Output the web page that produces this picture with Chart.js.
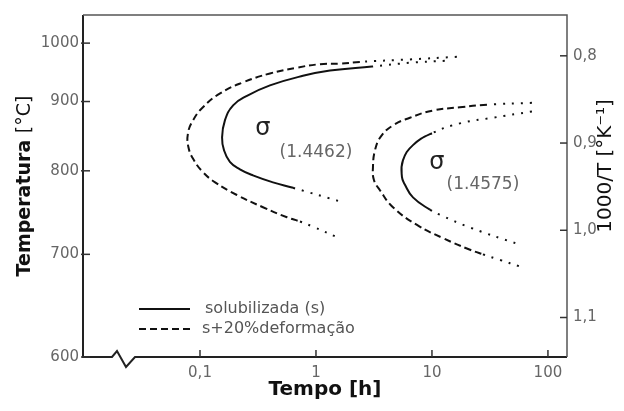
<!DOCTYPE html>
<html>
<head>
<meta charset="utf-8">
<script src="https://cdn.jsdelivr.net/npm/chart.js@4.4.0/dist/chart.umd.min.js"></script>
<style>
	html, body { margin: 0; padding: 0; background: #fff; }
	#wrap { width: 624px; height: 411px; }
</style>
</head>
<body>
<div id="wrap"><canvas id="ChartCanvas"></canvas></div>
<script>
// curvas TTT: tempo [h] x temperatura [C]
var tempoSolA = [12.9, 6.46, 3.04, 1.32, 0.772, 0.401, 0.254, 0.193, 0.164, 0.155, 0.161, 0.181, 0.221, 0.286, 0.426, 0.634, 1.71];
var tempSolA  = [968, 964.5, 958, 951, 942, 926, 909, 894, 871, 846, 828, 812, 802, 794, 785, 778, 760];

var tempoDefA = [16.4, 6.46, 2.39, 1.61, 1.083, 0.686, 0.401, 0.235, 0.149, 0.106, 0.087, 0.0788, 0.0795, 0.088, 0.105, 0.135, 0.208, 0.349, 0.562, 0.728, 0.942, 1.517];
var tempDefA  = [975, 970.5, 966, 963, 962, 956, 946, 931, 913, 891, 871, 852, 832, 815, 799, 785, 769, 754, 742, 737, 731, 719];

var tempoDefB = [72.8, 29.8, 17.4, 10.2, 6.46, 4.61, 3.62, 3.23, 3.10, 3.16, 3.56, 4.61, 7.43, 12.4, 21.3, 27.5, 38.5, 57.4];
var tempDefB  = [898, 895, 891, 886, 875, 863.5, 847, 828, 805, 788, 775, 754, 733, 718, 705, 700, 694, 687];

var tempoSolB = [72.8, 33.6, 17.4, 10.0, 6.86, 5.62, 5.51, 5.85, 6.86, 9.61, 11.7, 21.3, 57.4];
var tempSolB  = [884.5, 875, 866.5, 852, 835, 814, 792, 782, 766, 751, 745, 730, 710.5];

// trechos pontilhados (extrapolados) no inicio / fim de cada curva
var pontilhadoIni = [2, 2, 1, 3];
var pontilhadoFim = [1, 2, 2, 3];

var legendaTxt = ['solubilizada (s)', 's+20%deformação'];
var ticksTempC = [1000, 900, 800, 700, 600];
var ticksInvT = [0.8, 0.9, 1.0, 1.1];
var ticksTempo = [0.1, 1, 10, 100];
var rotulosTempo = ['0,1', '1', '10', '100'];
var sigmaTxt = ['σ', 'σ'];
var indiceTxt = ['(1.4462)', '(1.4575)'];
var sigmaPos = [[0.349, 859], [11.0, 811]];
var indicePos = [[1.0, 825], [27.5, 781.5]];

var FONTE = '"DejaVu Sans", Tahoma, sans-serif';

function invT(tc) { return 1000 / (tc + 273.15); }

function montaCurva(tempos, temps, nIni, nFim, tracejado) {
	var pts = tempos.map(function (t, i) { return { x: t, y: invT(temps[i]) }; });
	var n = pts.length;
	return {
		data: pts,
		showLine: true,
		pointRadius: 0,
		borderColor: '#111',
		borderWidth: 2,
		tension: 0.45,
		fill: false,
		borderDash: tracejado,
		segment: {
			borderDash: function (ctx) {
				if (ctx.p1DataIndex <= nIni || ctx.p0DataIndex >= n - 1 - nFim) return [2, 7];
				return tracejado;
			}
		}
	};
}

var datasets = [
	montaCurva(tempoSolA, tempSolA, pontilhadoIni[0], pontilhadoFim[0], []),
	montaCurva(tempoDefA, tempDefA, pontilhadoIni[1], pontilhadoFim[1], [7, 4]),
	montaCurva(tempoDefB, tempDefB, pontilhadoIni[2], pontilhadoFim[2], [7, 4]),
	montaCurva(tempoSolB, tempSolB, pontilhadoIni[3], pontilhadoFim[3], [])
];

var molduraPlugin = {
	id: 'moldura',
	afterDatasetsDraw: function (chart) {
		var c = chart.ctx, a = chart.chartArea, s = chart.scales;
		c.save();
		// eixo esquerdo e inferior (com quebra)
		c.strokeStyle = '#222';
		c.lineWidth = 2;
		c.beginPath();
		c.moveTo(a.left, a.top);
		c.lineTo(a.left, a.bottom);
		c.lineTo(a.left + 29, a.bottom);
		c.lineTo(a.left + 34, a.bottom - 6);
		c.lineTo(a.left + 43, a.bottom + 10);
		c.lineTo(a.left + 52, a.bottom);
		c.lineTo(a.right, a.bottom);
		c.stroke();
		// topo e direita
		c.strokeStyle = '#555';
		c.lineWidth = 1.5;
		c.beginPath();
		c.moveTo(a.left, a.top);
		c.lineTo(a.right, a.top);
		c.lineTo(a.right, a.bottom);
		c.stroke();
		// marcas para dentro
		c.lineWidth = 1.5;
		c.strokeStyle = '#333';
		s.y.ticks.forEach(function (t) {
			var py = s.y.getPixelForValue(t.value);
			c.beginPath(); c.moveTo(a.left - 2, py); c.lineTo(a.left + 7, py); c.stroke();
		});
		s.y2.ticks.forEach(function (t) {
			var py = s.y2.getPixelForValue(t.value);
			c.beginPath(); c.moveTo(a.right - 7, py); c.lineTo(a.right, py); c.stroke();
		});
		s.x.ticks.forEach(function (t) {
			var px = s.x.getPixelForValue(t.value);
			c.beginPath(); c.moveTo(px, a.bottom); c.lineTo(px, a.bottom - 7); c.stroke();
		});

		// sigma e indices
		c.textAlign = 'center';
		c.textBaseline = 'middle';
		sigmaTxt.forEach(function (txt, i) {
			c.fillStyle = '#222';
			c.font = '24px ' + FONTE;
			c.fillText(txt, s.x.getPixelForValue(sigmaPos[i][0]), s.y.getPixelForValue(invT(sigmaPos[i][1])));
			c.fillStyle = '#666';
			c.font = '17px ' + FONTE;
			c.fillText(indiceTxt[i], s.x.getPixelForValue(indicePos[i][0]), s.y.getPixelForValue(invT(indicePos[i][1])));
		});

		// legenda
		c.textAlign = 'left';
		c.font = '16px ' + FONTE;
		[[], [7, 4]].forEach(function (dash, i) {
			var ly = a.top + 294 + i * 20;
			c.strokeStyle = '#111';
			c.lineWidth = 2;
			c.setLineDash(dash);
			c.beginPath(); c.moveTo(a.left + 56, ly); c.lineTo(a.left + 107, ly); c.stroke();
			c.setLineDash([]);
			c.fillStyle = '#555';
			c.fillText(legendaTxt[i], a.left + 122 - i * 3, ly);
		});

		// titulos dos eixos verticais
		var cy = (a.top + a.bottom) / 2;
		c.save();
		c.translate(25, cy);
		c.rotate(-Math.PI / 2);
		c.fillStyle = '#111';
		var t1 = 'Temperatura ';
		c.font = 'bold 19px ' + FONTE;
		var w1 = c.measureText(t1).width;
		c.font = '19px ' + FONTE;
		var w2 = c.measureText('[°C]').width;
		c.textAlign = 'left';
		c.font = 'bold 19px ' + FONTE;
		c.fillText(t1, -(w1 + w2) / 2, 0);
		c.font = '19px ' + FONTE;
		c.fillText('[°C]', -(w1 + w2) / 2 + w1, 0);
		c.restore();

		c.save();
		c.translate(606, a.top + 151);
		c.rotate(-Math.PI / 2);
		c.fillStyle = '#111';
		c.textAlign = 'center';
		c.font = '20px ' + FONTE;
		c.fillText('1000/T [°K⁻¹]', 0, 0);
		c.restore();
		c.restore();
	}
};

var yMin = invT(1054.5);
var yMax = invT(600);

var ctx = document.getElementById('ChartCanvas').getContext('2d');
var chart = new Chart(ctx, {
	type: 'scatter',
	data: { datasets: datasets },
	options: {
		responsive: true,
		maintainAspectRatio: false,
		animation: false,
		layout: { padding: { top: 14, left: 0, right: 0, bottom: 0 } },
		plugins: { legend: { display: false }, tooltip: { enabled: false } },
		scales: {
			x: {
				type: 'logarithmic',
				position: 'bottom',
				min: 0.0098,
				max: 146,
				grid: { display: false, drawTicks: false },
				border: { display: false },
				afterBuildTicks: function (s) { s.ticks = ticksTempo.map(function (v) { return { value: v }; }); },
				afterFit: function (s) { s.height = 54; },
				ticks: {
					autoSkip: false,
					maxRotation: 0,
					padding: 7,
					color: '#666',
					font: { family: FONTE, size: 15 },
					callback: function (v) { return rotulosTempo[ticksTempo.indexOf(v)]; }
				},
				title: {
					display: true,
					text: 'Tempo [h]',
					color: '#111',
					font: { family: FONTE, size: 20, weight: 'bold' },
					padding: { top: 0, bottom: 9 }
				}
			},
			y: {
				type: 'linear',
				position: 'left',
				reverse: true,
				min: yMin,
				max: yMax,
				grid: { display: false, drawTicks: false },
				border: { display: false },
				afterBuildTicks: function (s) { s.ticks = ticksTempC.map(function (t) { return { value: invT(t) }; }); },
				afterFit: function (s) { s.width = 83; },
				ticks: {
					padding: 4,
					color: '#666',
					font: { family: FONTE, size: 15 },
					callback: function (v) { return String(Math.round(1000 / v - 273.15)); }
				}
			},
			y2: {
				type: 'linear',
				position: 'right',
				reverse: true,
				min: yMin,
				max: yMax,
				grid: { display: false, drawTicks: false },
				border: { display: false },
				afterBuildTicks: function (s) { s.ticks = ticksInvT.map(function (v) { return { value: v }; }); },
				afterFit: function (s) { s.width = 57; },
				ticks: {
					padding: 6,
					color: '#666',
					font: { family: FONTE, size: 15 },
					callback: function (v) { return v.toFixed(1).replace('.', ','); }
				}
			}
		}
	},
	plugins: [molduraPlugin]
});
</script>
</body>
</html>
